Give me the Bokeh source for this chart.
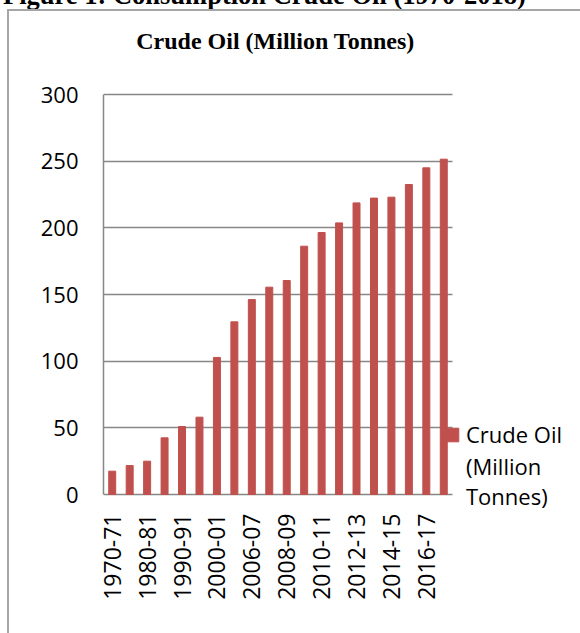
import math
from bokeh.plotting import figure
from bokeh.layouts import column
from bokeh.models import (ColumnDataSource, Range1d, FixedTicker, Legend,
                          LegendItem, Div, Label)
from bokeh.core.properties import value
from bokeh.embed import file_html
from bokeh.resources import INLINE

# ---- data ----
years = ["1970-71", "1975-76", "1980-81", "1985-86", "1990-91", "1995-96",
         "2000-01", "2005-06", "2006-07", "2007-08", "2008-09", "2009-10",
         "2010-11", "2011-12", "2012-13", "2013-14", "2014-15", "2015-16",
         "2016-17", "2017-18"]
crude_oil = [17.5, 21.7, 25.0, 42.5, 51.0, 58.0, 102.8, 129.5, 146.2, 155.5,
             160.5, 186.2, 196.5, 203.7, 218.7, 222.3, 223.0, 232.5, 245.0, 251.5]
y_ticks = [0, 50, 100, 150, 200, 250, 300]
title_text = "Crude Oil (Million Tonnes)"
caption_text = "Figure 1: Consumption Crude Oil (1970-2018)"
legend_line1 = "Crude Oil"
legend_rest = "(Million\nTonnes)"

BAR = "#C0504D"
GRID = "#878787"

positions = list(range(len(years)))
src = ColumnDataSource(dict(pos=positions, year=years, value=crude_oil))

# layout geometry (pixels)
W, H_CAP, H = 580, 9, 624
PLOT_L, PLOT_R = 103, 452          # plotted category band (absolute px)
Y0_ABS, Y300_ABS = 494, 94         # absolute px of value 0 and 300
FRAME_BOTTOM_ABS = 520
LABEL_TOP_ABS = 513
px_per_cat = (PLOT_R - PLOT_L) / len(years)
px_per_val = (Y0_ABS - Y300_ABS) / 300.0
x_start = -0.5
x_end = x_start + (W - PLOT_L) / px_per_cat
y_start = -(FRAME_BOTTOM_ABS - Y0_ABS) / px_per_val
y_end = (Y0_ABS - H_CAP) / px_per_val

# caption (cut off at the top of the page, as in the reference)
caption = Div(
    text=('<div style="font-family: \'Liberation Serif\'; font-weight: bold; '
          'font-size: 26.5px; line-height: 26px; white-space: nowrap; '
          'position: relative; top: -18px; left: 3px; color: black;">'
          + caption_text + '</div>'),
    width=W, height=H_CAP, margin=0, styles={"overflow": "hidden"})

p = figure(width=W, height=H, title=None,
           x_range=Range1d(x_start, x_end), y_range=Range1d(y_start, y_end),
           output_backend="svg", toolbar_location=None,
           min_border_left=PLOT_L, min_border_right=0,
           min_border_top=0, min_border_bottom=(H_CAP + H) - FRAME_BOTTOM_ABS,
           margin=0)

bars = p.vbar(x="pos", top="value", width=0.4, source=src,
              fill_color=BAR, line_color=BAR)
ghost = p.vbar(x=[], top=[], width=0.4, fill_alpha=0, line_alpha=0)

# chart title
p.add_layout(Label(x=x_start + (275 - PLOT_L) / px_per_cat,
                   y=(Y0_ABS - 40) / px_per_val,
                   text=title_text, text_font="Liberation Serif",
                   text_font_style="bold", text_font_size="24px",
                   text_align="center", text_baseline="middle",
                   text_color="black"))

# frame / background
p.outline_line_color = None
p.background_fill_color = None
p.border_fill_color = None
p.styles = {
    "background-color": "white",
    "background-image": "linear-gradient(#a6a6a6, #a6a6a6), linear-gradient(#a6a6a6, #a6a6a6)",
    "background-size": "2px 630px, 580px 2px",
    "background-position": "7px 0px, 7px 0px",
    "background-repeat": "no-repeat",
}

# y axis
p.yaxis.ticker = FixedTicker(ticks=y_ticks)
p.yaxis.bounds = (0, 300)
p.yaxis.major_tick_line_color = None
p.yaxis.minor_tick_line_color = None
p.yaxis.major_tick_out = 0
p.yaxis.major_tick_in = 0
p.yaxis.major_label_standoff = 25
p.yaxis.axis_line_color = GRID
p.yaxis.axis_line_width = 1.5
p.yaxis.major_label_text_font = "Open Sans"
p.yaxis.major_label_text_font_size = "22px"
p.yaxis.major_label_text_color = "black"

# x axis (its baseline is the grid line at 0; labels hang below it)
p.xaxis.ticker = FixedTicker(ticks=positions[0::2])
p.xaxis.major_label_overrides = {i: years[i] for i in positions[0::2]}
p.xaxis.major_label_orientation = math.pi / 2
p.xaxis.major_tick_line_color = None
p.xaxis.minor_tick_line_color = None
p.xaxis.major_tick_out = 0
p.xaxis.major_tick_in = 0
p.xaxis.major_label_standoff = LABEL_TOP_ABS - FRAME_BOTTOM_ABS
p.xaxis.axis_line_color = None
p.xaxis.major_label_text_font = "Open Sans"
p.xaxis.major_label_text_font_size = "23px"
p.xaxis.major_label_text_color = "black"

p.xgrid.grid_line_color = None
p.ygrid.grid_line_color = GRID
p.ygrid.grid_line_width = 1.5
p.ygrid.bounds = (0, 300)
p.ygrid.cross_bounds = (-0.5, len(years) - 0.5)

# legend
legend = Legend(items=[LegendItem(label=value(legend_line1), renderers=[bars]),
                       LegendItem(label=value(legend_rest), renderers=[ghost])],
                location=(443 - PLOT_L, 9), padding=0, margin=0, spacing=2,
                border_line_color=None, background_fill_alpha=0,
                glyph_width=17, glyph_height=17, label_standoff=6,
                label_text_font="Open Sans", label_text_font_size="22px",
                label_text_line_height=1.55, label_text_color="black")
p.add_layout(legend)

layout = column(caption, p, spacing=0, margin=0)
open("out.html", "w").write(file_html(layout, INLINE))
